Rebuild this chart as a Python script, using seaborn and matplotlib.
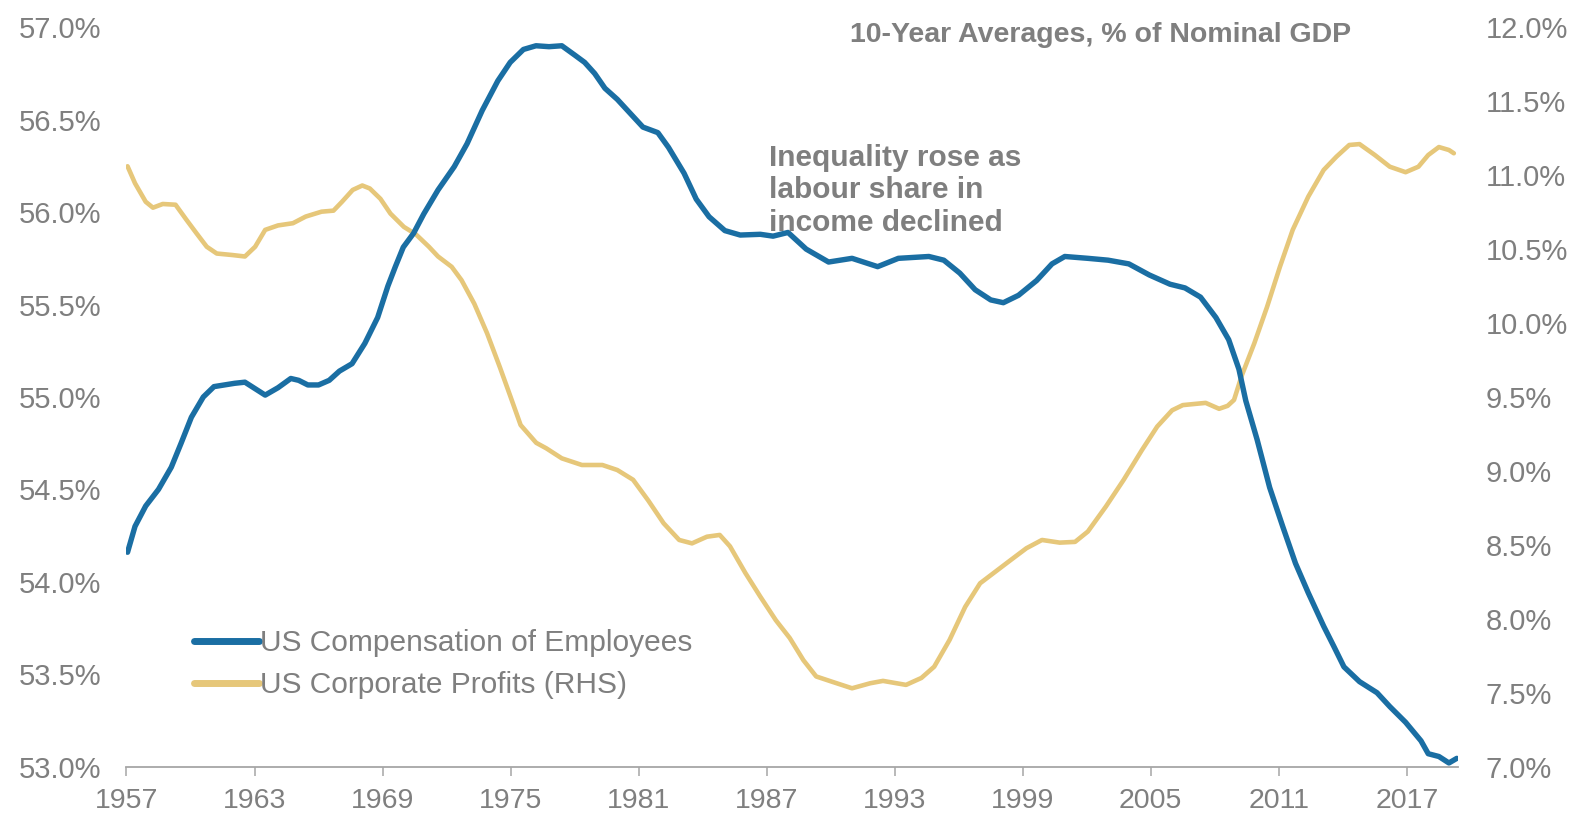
import matplotlib
matplotlib.use("Agg")
import matplotlib.pyplot as plt
import seaborn as sns
import pandas as pd
from matplotlib.lines import Line2D

# ---- data ----
comp_years = [1957.05, 1957.4, 1957.9, 1958.5, 1959.1, 1959.56, 1960.04, 1960.6, 1961.1, 1962.07,
              1962.55, 1963.5, 1964.1, 1964.7, 1965.07, 1965.5, 1966.0, 1966.5, 1966.98, 1967.57,
              1968.17, 1968.77, 1969.25, 1969.6, 1969.97, 1970.45, 1970.93, 1971.6, 1972.36, 1972.96,
              1973.67, 1974.4, 1974.98, 1975.6, 1976.19, 1976.8, 1977.4, 1978.0, 1978.47, 1978.94,
              1979.42, 1980.0, 1980.6, 1981.2, 1981.9, 1982.4, 1983.13, 1983.7, 1984.3, 1985.04,
              1985.76, 1986.7, 1987.3, 1988.0, 1988.85, 1989.9, 1991.0, 1992.2, 1993.17, 1994.6,
              1995.3, 1996.05, 1996.77, 1997.5, 1998.09, 1998.8, 1999.65, 2000.37, 2000.97, 2002.05,
              2003.0, 2003.97, 2004.93, 2005.9, 2006.6, 2007.33, 2008.05, 2008.65, 2009.13, 2009.45,
              2009.98, 2010.57, 2011.18, 2011.78, 2012.38, 2013.1, 2013.58, 2014.05, 2014.78, 2015.6,
              2016.2, 2016.94, 2017.66, 2018.0, 2018.5, 2018.97, 2019.34]
comp_values = [54.16, 54.30, 54.41, 54.50, 54.62, 54.75, 54.89, 55.00, 55.056, 55.074,
               55.08, 55.01, 55.05, 55.10, 55.09, 55.065, 55.065, 55.09, 55.14, 55.18,
               55.29, 55.43, 55.60, 55.705, 55.81, 55.885, 55.99, 56.12, 56.246, 56.37,
               56.55, 56.71, 56.81, 56.88, 56.90, 56.895, 56.90, 56.85, 56.81, 56.75,
               56.67, 56.61, 56.535, 56.46, 56.43, 56.35, 56.21, 56.07, 55.975, 55.90,
               55.876, 55.88, 55.87, 55.89, 55.80, 55.73, 55.75, 55.705, 55.75, 55.76,
               55.74, 55.67, 55.58, 55.525, 55.51, 55.55, 55.63, 55.72, 55.76, 55.75,
               55.74, 55.72, 55.66, 55.61, 55.59, 55.54, 55.43, 55.31, 55.15, 54.98,
               54.77, 54.51, 54.30, 54.10, 53.94, 53.76, 53.65, 53.54, 53.46, 53.40,
               53.325, 53.24, 53.14, 53.07, 53.055, 53.02, 53.045]

profit_years = [1957.05, 1957.4, 1957.9, 1958.24, 1958.7, 1959.3, 1959.8, 1960.28, 1960.76, 1961.23,
                1961.95, 1962.55, 1963.03, 1963.5, 1964.1, 1964.8, 1965.4, 1966.14, 1966.7, 1967.1,
                1967.6, 1968.05, 1968.4, 1968.9, 1969.37, 1970.0, 1970.56, 1971.17, 1971.6, 1972.24,
                1972.7, 1973.3, 1973.9, 1974.5, 1975.0, 1975.47, 1976.2, 1976.67, 1977.4, 1978.34,
                1979.3, 1980.0, 1980.74, 1981.45, 1982.17, 1982.9, 1983.5, 1984.2, 1984.8, 1985.28,
                1986.0, 1986.7, 1987.43, 1988.08, 1988.72, 1989.32, 1990.05, 1991.0, 1991.85, 1992.45,
                1993.53, 1994.25, 1994.85, 1995.57, 1996.3, 1997.0, 1997.73, 1998.46, 1999.17, 1999.9,
                2000.73, 2001.45, 2002.05, 2002.9, 2003.73, 2004.58, 2005.3, 2006.0, 2006.5, 2007.57,
                2008.2, 2008.6, 2008.9, 2009.25, 2009.85, 2010.45, 2011.05, 2011.65, 2012.38, 2013.1,
                2013.7, 2014.3, 2014.78, 2015.5, 2016.2, 2016.94, 2017.54, 2018.0, 2018.5, 2018.97,
                2019.2]
profit_values = [11.06, 10.945, 10.82, 10.78, 10.805, 10.80, 10.70, 10.607, 10.516, 10.47,
                 10.46, 10.45, 10.516, 10.63, 10.66, 10.675, 10.72, 10.753, 10.76, 10.82,
                 10.90, 10.93, 10.91, 10.84, 10.74, 10.65, 10.60, 10.516, 10.45, 10.38,
                 10.29, 10.13, 9.93, 9.70, 9.50, 9.31, 9.19, 9.153, 9.085, 9.04,
                 9.04, 9.006, 8.94, 8.80, 8.646, 8.533, 8.51, 8.555, 8.567, 8.49,
                 8.31, 8.15, 7.99, 7.87, 7.72, 7.61, 7.575, 7.53, 7.564, 7.58,
                 7.553, 7.60, 7.676, 7.857, 8.08, 8.24, 8.32, 8.40, 8.477, 8.533,
                 8.515, 8.52, 8.59, 8.76, 8.94, 9.14, 9.30, 9.41, 9.445, 9.46,
                 9.42, 9.44, 9.48, 9.64, 9.863, 10.11, 10.38, 10.63, 10.855, 11.035,
                 11.125, 11.204, 11.21, 11.136, 11.057, 11.02, 11.057, 11.136, 11.19, 11.17,
                 11.148]

x_ticks = [1957, 1963, 1969, 1975, 1981, 1987, 1993, 1999, 2005, 2011, 2017]
left_ticks = [53.0, 53.5, 54.0, 54.5, 55.0, 55.5, 56.0, 56.5, 57.0]
right_ticks = [7.0, 7.5, 8.0, 8.5, 9.0, 9.5, 10.0, 10.5, 11.0, 11.5, 12.0]

comp_label = "US Compensation of Employees"
profit_label = "US Corporate Profits (RHS)"
title_text = "10-Year Averages, % of Nominal GDP"
note_text = "Inequality rose as\nlabour share in\nincome declined"

# ---- style ----
sns.set_theme(style="white")
plt.rcParams['font.family'] = ['Liberation Sans', 'DejaVu Sans']

BLUE = "#1a6ea3"
GOLD = "#e6c77a"
GRAY = "#7f7f7f"
AXIS_GRAY = "#a6a6a6"

comp_df = pd.DataFrame({"year": comp_years, "value": comp_values})
profit_df = pd.DataFrame({"year": profit_years, "value": profit_values})

fig = plt.figure(figsize=(15.83, 8.19), dpi=100)
ax = fig.add_axes([0.0799, 0.0639, 0.8412, 0.9028])
ax2 = ax.twinx()

sns.lineplot(data=profit_df, x="year", y="value", ax=ax2, color=GOLD, linewidth=3.3,
             solid_joinstyle="round", solid_capstyle="round", legend=False)
sns.lineplot(data=comp_df, x="year", y="value", ax=ax, color=BLUE, linewidth=3.9,
             solid_joinstyle="round", solid_capstyle="round", legend=False)

ax.set_zorder(ax2.get_zorder() + 1)
ax.patch.set_visible(False)

ax.set_xlim(1957, 2019.4)
ax.set_ylim(53.0, 57.0)
ax2.set_ylim(7.0, 12.0)

ax.set_xticks(x_ticks)
ax.set_xticklabels([str(t) for t in x_ticks])
ax.set_yticks(left_ticks)
ax.set_yticklabels([f"{t:.1f}%" for t in left_ticks])
ax2.set_yticks(right_ticks)
ax2.set_yticklabels([f"{t:.1f}%" for t in right_ticks])

ax.set_xlabel("")
ax.set_ylabel("")
ax2.set_xlabel("")
ax2.set_ylabel("")

for a in (ax, ax2):
    for s in ("left", "right", "top", "bottom"):
        a.spines[s].set_visible(False)
ax.spines["bottom"].set_visible(True)
ax.spines["bottom"].set_color(AXIS_GRAY)
ax.spines["bottom"].set_linewidth(1.3)

ax.tick_params(axis="x", direction="out", length=6.5, width=1.1, color=AXIS_GRAY,
               labelsize=20.5, labelcolor=GRAY, pad=9, bottom=True)
ax.tick_params(axis="y", length=0, labelsize=21, labelcolor=GRAY, pad=18, left=False)
ax2.tick_params(axis="y", length=0, labelsize=21, labelcolor=GRAY, pad=20, right=False)
ax.grid(False)
ax2.grid(False)

# title and annotation
ax.text(0.92, 0.99, title_text, transform=ax.transAxes, ha="right", va="center",
        fontsize=20.5, fontweight="bold", color=GRAY)
ax.text(1987.1, 56.37, note_text, ha="left", va="top", fontsize=21.5, fontweight="bold",
        color=GRAY, linespacing=1.2)

handles = [Line2D([0], [0], color=BLUE, linewidth=5),
           Line2D([0], [0], color=GOLD, linewidth=5)]
leg = ax.legend(handles, [comp_label, profit_label], loc="upper left",
                bbox_to_anchor=(0.051, 0.186), frameon=False, fontsize=21.5,
                handlelength=2.15, handletextpad=0.05, labelspacing=0.48,
                borderpad=0, borderaxespad=0)
for t in leg.get_texts():
    t.set_color(GRAY)

fig.savefig("out.png", dpi=100)
